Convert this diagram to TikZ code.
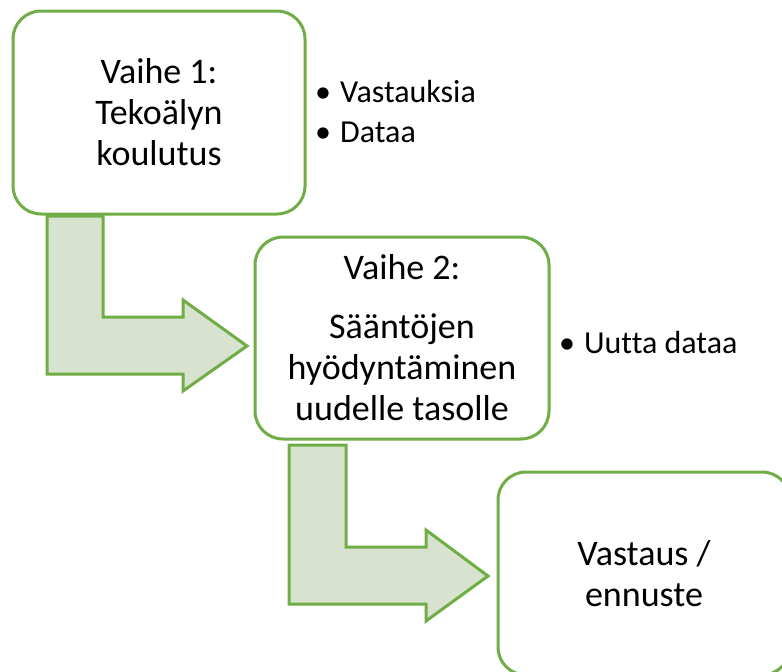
\documentclass[tikz,border=0pt]{standalone}
\usepackage{fontspec}
\setmainfont[Ligatures=NoCommon]{Carlito}
\usepackage{xcolor}
\definecolor{stagegreen}{RGB}{112, 173, 71}
\definecolor{stagegreen20}{RGB}{215, 227, 207}
\usepackage{tikz}

\begin{document}
\begin{tikzpicture}[x=1pt, y=1pt,
        stagebox/.style={draw=stagegreen, line width=3pt, fill=white, rounded corners=28pt,
            minimum width=292pt, minimum height=203pt, align=center,
            font=\fontsize{36}{41}\selectfont},
        bentarrow/.style={draw=stagegreen, line width=3pt, fill=stagegreen20, line join=miter},
        bulletitem/.style={anchor=base west, inner sep=0pt, font=\fontsize{32}{38}\selectfont}]
        \useasboundingbox (0,0) rectangle (782,-672);
        \clip (0,0) rectangle (782,-672);

        % Arrows
        \draw[bentarrow] (47,-216) -- (103,-216) -- (103,-317) -- (183,-317) -- (183,-300)
            -- (247,-346) -- (183,-391) -- (183,-374) -- (47,-374) -- cycle;
        \draw[bentarrow] (289,-445) -- (346,-445) -- (346,-547) -- (426,-547) -- (426,-530)
            -- (488,-576) -- (426,-621) -- (426,-604) -- (289,-604) -- cycle;

        % Stages
        \node[stagebox] (stage1) at (159,-112.5) {Vaihe 1:\\Tekoälyn\\koulutus};
        \node[stagebox, minimum width=294pt, minimum height=202pt] (stage2) at (402,-338)
            {Vaihe 2:\\[18pt]Sääntöjen\\hyödyntäminen\\uudelle tasolle};
        \node[stagebox] (stage3) at (644,-573.5) {Vastaus /\\ennuste};

        % Inputs
        \node[bulletitem] (answers) at (315,-102) {\textbullet\hspace{9pt}Vastauksia};
        \node[bulletitem] (data) at (315,-142) {\textbullet\hspace{9pt}Dataa};
        \node[bulletitem] (newdata) at (559,-353) {\textbullet\hspace{9pt}Uutta dataa};
    \end{tikzpicture}
\end{document}
